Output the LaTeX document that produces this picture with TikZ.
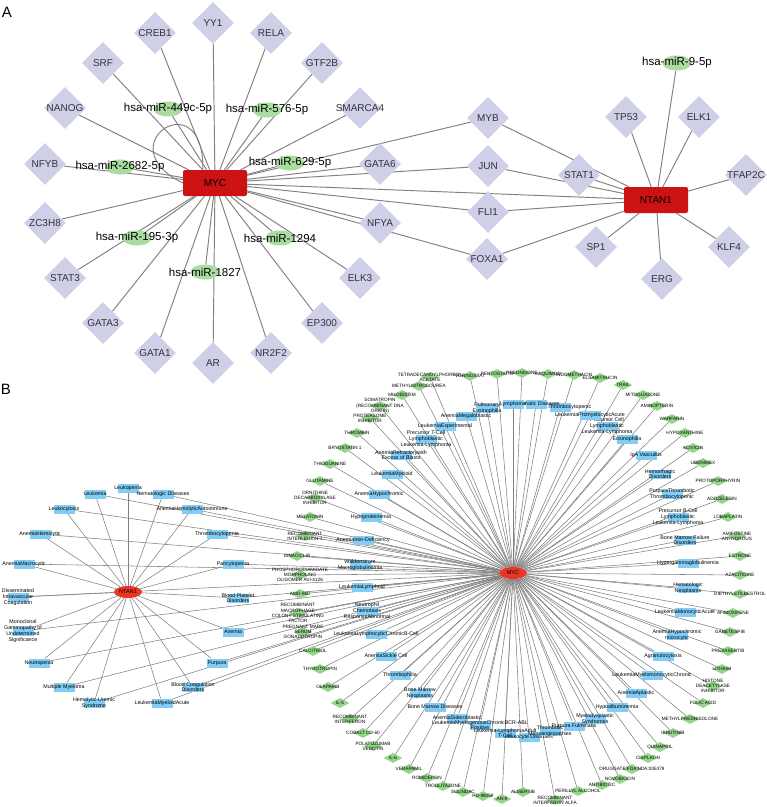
\documentclass[tikz,border=0pt]{standalone}
\usepackage{fontspec}
\setmainfont{Liberation Sans}
\usetikzlibrary{shapes.geometric,backgrounds}
\definecolor{HubRed}{RGB}{204,18,18}
\definecolor{HubRedB}{RGB}{234,52,38}
\definecolor{TfLavender}{RGB}{207,207,232}
\definecolor{MirGreen}{RGB}{170,220,160}
\definecolor{DrugGreen}{RGB}{150,214,140}
\definecolor{DisBlue}{RGB}{130,205,245}
\definecolor{LinkGray}{RGB}{128,128,128}
\definecolor{TextGray}{RGB}{50,50,60}

\begin{document}
\begin{tikzpicture}[x=1pt,y=-1pt,
  link/.style={draw=LinkGray,line width=0.95pt},
  linkB/.style={draw=LinkGray,line width=0.55pt},
  hub/.style={rectangle,rounded corners=2pt,fill=HubRed,minimum width=64pt,minimum height=26pt,inner sep=0pt,font=\fontsize{10}{12}\selectfont},
  tf/.style={diamond,fill=TfLavender,minimum size=42pt,inner sep=0pt},
  mir/.style={ellipse,fill=MirGreen,minimum width=29pt,minimum height=15pt,inner sep=0pt},
  hubB/.style={ellipse,fill=HubRedB,minimum width=28pt,minimum height=12pt,inner sep=0pt,font=\fontsize{5.5}{6}\selectfont},
  dis/.style={rectangle,fill=DisBlue,minimum width=21pt,minimum height=9pt,inner sep=0pt},
  drug/.style={diamond,fill=DrugGreen,minimum width=19pt,minimum height=10pt,inner sep=0pt},
  panel/.style={font=\fontsize{15}{15}\selectfont}]
\useasboundingbox (0,0) rectangle (767,807);

% panel A
\node[panel] (lblA) at (7,12) {A};
\begin{scope}[every label/.style={font=\fontsize{10}{12}\selectfont,text=TextGray,inner sep=0pt}]
  \node[hub] (MYC) at (215,183) {MYC};
  \node[hub] (NTAN1) at (656,200) {NTAN1};
  \foreach \n/\x/\y in {YY1/213/23,CREB1/155/33,RELA/271/33,SRF/103/63,GTF2B/322/63,
      NANOG/65/108,SMARCA4/360/108,NFYB/45/164,GATA6/380/164,ZC3H8/45/223,NFYA/380/223,
      STAT3/65/278,ELK3/360/278,GATA3/103/323,EP300/322/323,GATA1/155/353,NR2F2/271/353,AR/213/363,
      MYB/488/118,JUN/488/166,FLI1/488/212,FOXA1/487/259,STAT1/579/175,
      TP53/626/117,ELK1/699/117,TFAP2C/746/175,KLF4/729/247,ERG/662/279,SP1/596/247}
    \node[tf,label={center:\n}] (\n) at (\x,\y) {};
  \foreach \n/\x/\y/\t in {m449/168/109/hsa-miR-449c-5p,m576/267/110/hsa-miR-576-5p,
      m2682/120/167/hsa-miR-2682-5p,m629/290/163/hsa-miR-629-5p,m195/137/238/hsa-miR-195-3p,
      m1294/280/238/hsa-miR-1294,m1827/205/272/hsa-miR-1827,m9/677/63/hsa-miR-9-5p}
    \node[mir,label={[font=\fontsize{11.5}{12}\selectfont,text=black]center:{\t}}] (\n) at (\x,\y) {};
\end{scope}

\begin{pgfonlayer}{background}
  \foreach \n in {YY1,CREB1,RELA,SRF,GTF2B,NANOG,SMARCA4,NFYB,GATA6,ZC3H8,NFYA,STAT3,ELK3,
      GATA3,EP300,GATA1,NR2F2,AR,MYB,JUN,FLI1,FOXA1,NTAN1,m449,m576,m2682,m629,m195,m1294,m1827}
    \draw[link] (MYC) -- (\n);
  \foreach \n in {MYB,JUN,STAT1,FLI1,FOXA1,TP53,ELK1,m9,TFAP2C,KLF4,ERG,SP1}
    \draw[link] (NTAN1) -- (\n);
  \draw[link] ([xshift=20pt]MYC.north west) .. controls (205,80) and (105,145) .. (MYC.west);
\end{pgfonlayer}

% panel B
\node[panel] (lblB) at (6,389) {B};
\node[hubB] (NTAN1b) at (128,592) {NTAN1};
\node[hubB] (MYCb) at (513,573) {MYC};

\begin{scope}[every label/.style={font=\fontsize{5.3}{5.8}\selectfont,align=center,inner sep=0pt}]
  \node[dis,label={center:Leukopenia}] (lpen) at (128,488) {};
  \begin{pgfonlayer}{background}
    \draw[linkB] (NTAN1b) -- (lpen);
  \end{pgfonlayer}
  \foreach \x/\y/\t [count=\i] in {95/494/Leukemia,163/494/Hematologic Diseases,64/509/Leukocytosis,
      192/509/AnemiaHemolyticAutoimmune,40/534/AnemiaHemolytic,217/534/Thrombocytopenia,
      24/564/AnemiaMacrocytic,233/564/Pancytopenia,18/597/{Disseminated\\Intravascular\\Coagulation},
      238/598/{Blood Platelet\\Disorders},23/631/{Monoclonal\\Gammopathy of\\Undetermined\\Significance},
      233/632/Anemia,39/663/Neutropenia,217/663/Purpura,64/687/Multiple Myeloma,
      193/687/{Blood Coagulation\\Disorders},94/703/{Hemolytic-Uremic\\Syndrome},162/703/LeukemiaMyeloidAcute} {
    \node[dis,label={center:{\t}}] (nd\i) at (\x,\y) {};
    \begin{pgfonlayer}{background}
      \draw[linkB] (NTAN1b) -- (nd\i);
      \draw[linkB] (MYCb) -- (nd\i);
    \end{pgfonlayer}
  }
  \foreach \x/\y/\t [count=\i] in {466/416/AnemiaMegaloblastic,445/426/LeukemiaExperimental,
      426/439/{Precursor T-Cell\\Lymphoblastic\\Leukemia-Lymphoma},401/455/{AnemiaRefractorywith\\Excess of Blasts},
      392/474/LeukemiaMyeloid,379/494/AnemiaHypochromic,371/517/Hypoproteinemia,363/540/AnemiaIron-Deficiency,
      360/565/{Waldenstrom\\Macroglobulinemia},362/587/LeukemiaLymphoid,367/611/{Neutrophil\\Chemotaxis\\ResponseAbnormal},
      376/634/LeukemiaLymphocyticChronicB-Cell,386/656/AnemiaSickle Cell,400/675/Thrombophilia,
      420/693/{Bone Marrow\\Neoplasms},435/707/Bone Marrow Diseases,457/718/AnemiaSideroblastic,
      480/725/{LeukemiaMyelogenousChronicBCR-ABL\\Positive},505/733/{Leukemia-LymphomaAdult\\T-Cell},
      529/737/Leukocyte Disorders,550/731/{Thrombotic\\Microangiopathies},574/726/Purpura Fulminans,
      595/719/{Myelodysplastic\\Syndromes},617/707/Hypoalbuminemia,636/693/AnemiaAplastic,
      652/675/LeukemiaMyelomonocyticChronic,663/656/Agranulocytosis,677/635/{AnemiaHypochromic\\microcytic},
      685/612/LeukemiaMonocyticAcute,688/588/{Hematologic\\Neoplasms},688/563/Hypergammaglobulinemia,
      685/540/{Bone Marrow Failure\\Disorders},678/517/{Precursor B-Cell\\Lymphoblastic\\Leukemia-Lymphoma},
      672/494/{PurpuraThrombotic\\Thrombocytopenic},660/474/{Hemorrhagic\\Disorders},646/455/IgA Vasculitis,
      627/439/Eosinophilia,607/426/{Precursor Cell\\Lymphoblastic\\Leukemia-Lymphoma},
      590/415/LeukemiaPromyelocyticAcute,560/407/PurpuraThrombocytopenic,536/404/Lymphatic Diseases,
      513/404/Lymphoma,487/408/{Pulmonary\\Eosinophilia}} {
    \node[dis,label={center:{\t}}] (md\i) at (\x,\y) {};
    \begin{pgfonlayer}{background}
      \draw[linkB] (MYCb) -- (md\i);
    \end{pgfonlayer}
  }
\end{scope}

\begin{scope}[every label/.style={font=\fontsize{4.7}{5.2}\selectfont,align=center,inner sep=0pt}]
  \foreach \x/\y/\t [count=\i] in {430/377/{TETRADECANOYLPHORBOL\\ACETATE},419/386/METHYLNITROSOUREA,
      402/395/MILODISTIM,380/406/{SOMATROPIN\\(RECOMBINANT DNA\\ORIGIN)},370/418/{PROTEASOME\\INHIBITOR},
      357/433/THROMBIN,345/448/BRYOSTATIN 1,330/464/THIOGUANINE,320/481/GLUTAMINE,
      315/498/{ORNITHINE\\DECARBOXYLASE\\INHIBITOR},310/517/MELATONIN,305/536/{RECOMBINANT\\INTERLEUKIN-1},
      297/556/DINACICLIB,300/575/{PHOSPHORODIAMIDATE\\MORPHOLINO\\OLIGOMER AVI-4126},300/594/AMG-900,
      298/613/{RECOMBINANT\\MACROPHAGE\\COLONY-STIMULATING\\FACTOR},303/632/{PREGNANT MARE\\SERUM\\GONADOTROPIN},
      313/651/CALCITRIOL,320/669/THYROTROPIN,328/687/OLAPARIB,340/703/IL-5,350/719/{RECOMBINANT\\INTERFERON},
      363/733/COBALT CO-60,373/746/{POLATUZUMAB\\VEDOTIN},393/758/IL-6,409/769/VERAPAMIL,427/778/ROMIDEPSIN,
      443/786/TROGLITAZONE,463/792/SULINDAC,483/796/PD-98059,502/799/AN-9,523/792/ALISERTIB,
      555/800/{RECOMBINANT\\INTERFERON ALFA},578/791/PERILLYL ALCOHOL,602/785/ANTIBIOTIC,620/779/NOVOBIOCIN,
      632/769/DRUGGATE:FDA:NDA:006378,648/758/CISPLATIN,660/747/QUINAPRIL,673/733/IBRUTINIB,
      690/719/METHYLPREDNISOLONE,703/703/FOLIC ACID,713/686/{HISTONE\\DEACETYLASE\\INHIBITOR},722/669/LITHIUM,
      728/651/PREXASERTIB,730/632/GANETESPIB,733/613/AFIMOXIFENE,740/594/DIETHYLSTILBESTROL,
      740/575/AZACITIDINE,740/556/ESTRONE,737/536/{AMIFOSTINE\\ANHYDROUS},728/517/LOBAPLATIN,
      722/499/ADOZELESIN,718/481/PROTOPORPHYRIN,703/463/UBENIMEX,693/448/ACIVICIN,685/433/HYPOXANTHINE,
      672/419/WARFARIN,657/406/AMINOPTERIN,643/395/MITOGUAZONE,623/385/TRAIL,600/378/ELSAMITRUCIN,
      574/375/INDOMETHACIN,548/374/IMIQUIMOD,522/373/PREDNISONE,497/374/PENTOSTATIN,470/376/VORINOSTAT} {
    \node[drug,label={center:{\t}}] (dr\i) at (\x,\y) {};
    \begin{pgfonlayer}{background}
      \draw[linkB] (MYCb) -- (dr\i);
    \end{pgfonlayer}
  }
\end{scope}
\end{tikzpicture}
\end{document}
